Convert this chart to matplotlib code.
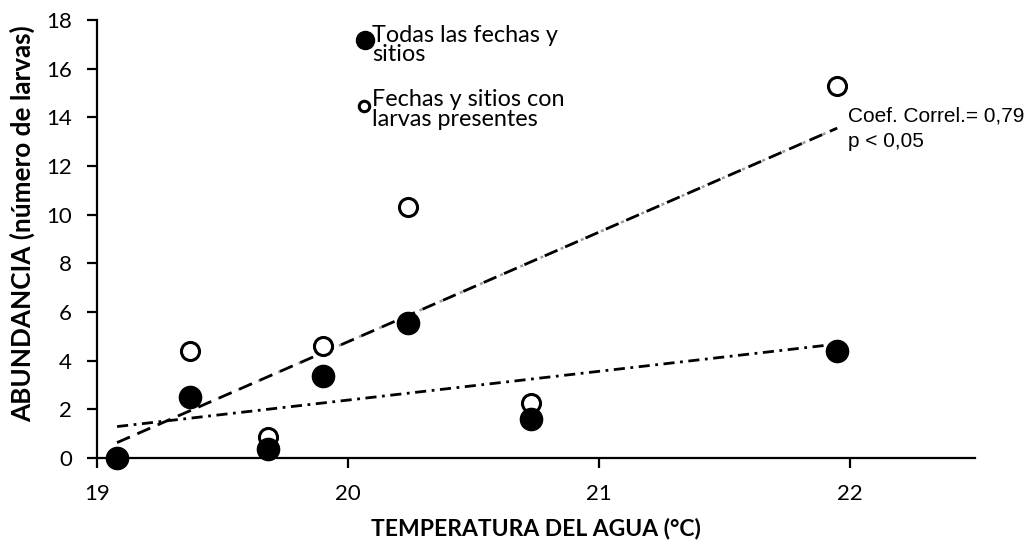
import numpy as np
import matplotlib
matplotlib.use("Agg")
import matplotlib.pyplot as plt

# Water temperature (°C) per sampling and larval abundance
temp_all = [19.08, 19.37, 19.68, 19.90, 20.24, 20.73, 21.95]
abund_all = [0.0, 2.5, 0.35, 3.35, 5.55, 1.6, 4.4]

temp_present = [19.08, 19.37, 19.68, 19.90, 20.24, 20.73, 21.95]
abund_present = [0.0, 4.4, 0.85, 4.6, 10.3, 2.25, 15.3]

x_ticks = [19, 20, 21, 22]
y_ticks = [0, 2, 4, 6, 8, 10, 12, 14, 16, 18]

legend_labels = ["Todas las fechas y\nsitios", "Fechas y sitios con\nlarvas presentes"]
stats_text = "Coef. Correl.= 0,79\np < 0,05"

plt.rcParams['font.family'] = ['Lato', 'DejaVu Sans']

fig = plt.figure(figsize=(10.32, 5.47), dpi=100)
ax = fig.add_axes([0.094, 0.163, 0.851, 0.8])

# Linear trend lines
def trend(x, y):
    x = np.asarray(x); y = np.asarray(y)
    m, b = np.polyfit(x, y, 1)
    xs = np.array([x.min(), x.max()])
    return xs, m * xs + b

xs_p, ys_p = trend(temp_present, abund_present)
ax.plot(xs_p, ys_p, color='#9a9a9a', lw=1.8, linestyle=(0, (1.2, 3.2)), zorder=2)
ax.plot(xs_p, ys_p, color='black', lw=2.0, linestyle=(0, (5, 3)), zorder=2)

xs_a, ys_a = trend(temp_all, abund_all)
ax.plot(xs_a, ys_a, color='black', lw=2.0, linestyle=(0, (4, 2, 1, 2)), zorder=2)

# Points
ax.plot(temp_present, abund_present, 'o', ms=13, mfc='white', mec='black', mew=2.2,
        zorder=3, clip_on=False)
ax.plot(temp_all, abund_all, 'o', ms=16, mfc='black', mec='black', mew=1,
        zorder=4, clip_on=False)

# Axes styling
ax.set_xlim(19, 22.5)
ax.set_ylim(0, 18)
ax.set_xticks(x_ticks)
ax.set_yticks(y_ticks)
ax.set_xticklabels([str(t) for t in x_ticks])
ax.set_yticklabels([str(t) for t in y_ticks])
for side in ['top', 'right']:
    ax.spines[side].set_visible(False)
for side in ['left', 'bottom']:
    ax.spines[side].set_linewidth(1.6)
ax.tick_params(axis='both', direction='out', length=7, width=1.6, labelsize=16)
ax.tick_params(axis='y', pad=11)
ax.tick_params(axis='x', pad=12)

ax.set_xlabel("TEMPERATURA DEL AGUA (°C)", fontsize=16.5, fontweight='bold', labelpad=10)
ax.set_ylabel("ABUNDANCIA (número de larvas)", fontsize=18.8, fontweight='bold')
ax.yaxis.set_label_coords(-0.071, 0.536)

# Legend drawn by hand
ax.plot([0.305], [0.955], 'o', ms=13, mfc='black', mec='black', transform=ax.transAxes,
        clip_on=False)
ax.text(0.313, 0.990, legend_labels[0], transform=ax.transAxes, fontsize=16.8,
        va='top', ha='left', linespacing=0.93)
ax.plot([0.304], [0.805], 'o', ms=7.5, mfc='white', mec='black', mew=2.2,
        transform=ax.transAxes, clip_on=False)
ax.text(0.313, 0.843, legend_labels[1], transform=ax.transAxes, fontsize=16.8,
        va='top', ha='left', linespacing=0.93)

ax.text(0.855, 0.802, stats_text, transform=ax.transAxes, fontsize=15,
        va='top', ha='left', family=['Liberation Sans', 'DejaVu Sans'], linespacing=1.4)

fig.savefig("out.png", dpi=100)
